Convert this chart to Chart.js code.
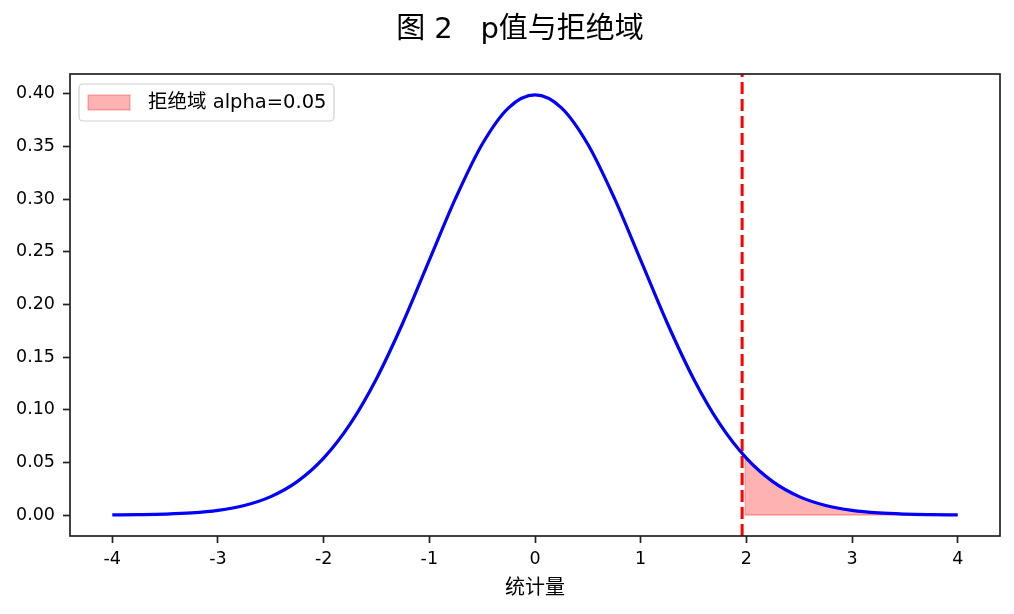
<!DOCTYPE html>
<html>
<head>
<meta charset="utf-8">
<script src="https://cdn.jsdelivr.net/npm/chart.js@4.4.0/dist/chart.umd.min.js"></script>
<style>
  html, body { margin: 0; padding: 0; background: #fff; }
  #wrap { width: 1014px; height: 614px; }
</style>
</head>
<body>
<div id="wrap"><canvas id="pChart"></canvas></div>
<script>
// standard normal density
const xValues = [-4, -3.75, -3.5, -3.25, -3, -2.75, -2.5, -2.25, -2, -1.75, -1.5, -1.25, -1, -0.75, -0.5, -0.25,
  0, 0.25, 0.5, 0.75, 1, 1.25, 1.5, 1.75, 2, 2.25, 2.5, 2.75, 3, 3.25, 3.5, 3.75, 4];
const densityValues = [0.0001, 0.0004, 0.0009, 0.0020, 0.0044, 0.0091, 0.0175, 0.0317, 0.0540, 0.0863, 0.1295, 0.1826, 0.2420, 0.3011, 0.3521, 0.3867,
  0.3989, 0.3867, 0.3521, 0.3011, 0.2420, 0.1826, 0.1295, 0.0863, 0.0540, 0.0317, 0.0175, 0.0091, 0.0044, 0.0020, 0.0009, 0.0004, 0.0001];

// rejection region (right tail)
const tailX = [1.99, 2, 2.25, 2.5, 2.75, 3, 3.25, 3.5, 3.75, 4];
const tailY = [0.0551, 0.0540, 0.0317, 0.0175, 0.0091, 0.0044, 0.0020, 0.0009, 0.0004, 0.0001];

const criticalValue = 1.96;
const xTicks = [-4, -3, -2, -1, 0, 1, 2, 3, 4];
const yTicks = [0, 0.05, 0.10, 0.15, 0.20, 0.25, 0.30, 0.35, 0.40];
const xRange = [-4.4, 4.4];
const yRange = [-0.0199, 0.4188];

const chartTitle = "图 2   p值与拒绝域";
const xLabel = "统计量";
const legendLabel = "拒绝域 alpha=0.05";

const fontFamily = "'DejaVu Sans', 'Noto Sans CJK SC', sans-serif";
const fillColor = "rgba(255, 0, 0, 0.3)";

const toPoints = (xs, ys) => xs.map((x, i) => ({ x, y: ys[i] }));

// box around the plot, like matplotlib spines
const framePlugin = {
  id: "frame",
  afterDraw(chart) {
    const { ctx, chartArea: a } = chart;
    ctx.save();
    ctx.strokeStyle = "#222";
    ctx.lineWidth = 1.7;
    ctx.strokeRect(a.left, a.top, a.right - a.left, a.bottom - a.top);
    ctx.restore();
  },
};

// figure title, centred a little right of the canvas middle as in the original
const titlePlugin = {
  id: "figTitle",
  afterDraw(chart) {
    const { ctx } = chart;
    ctx.save();
    ctx.fillStyle = "#000";
    ctx.font = "29px " + fontFamily;
    ctx.textAlign = "center";
    ctx.textBaseline = "middle";
    ctx.fillText(chartTitle, 520, 30);
    ctx.restore();
  },
};

// legend drawn inside the plot, upper left
const innerLegend = {
  id: "innerLegend",
  afterDraw(chart) {
    const { ctx, chartArea: a } = chart;
    const x = a.left + 9, y = a.top + 10, w = 255, h = 37;
    ctx.save();
    ctx.fillStyle = "rgba(255,255,255,0.8)";
    ctx.strokeStyle = "#d0d0d0";
    ctx.lineWidth = 1.2;
    ctx.beginPath();
    ctx.roundRect(x, y, w, h, 4);
    ctx.fill();
    ctx.stroke();

    ctx.fillStyle = fillColor;
    ctx.strokeStyle = fillColor;
    ctx.lineWidth = 1.2;
    ctx.fillRect(x + 9, y + 11, 42, 15);
    ctx.strokeRect(x + 9, y + 11, 42, 15);

    ctx.fillStyle = "#000";
    ctx.font = "19.5px " + fontFamily;
    ctx.textBaseline = "middle";
    ctx.fillText(legendLabel, x + 69, y + 19);
    ctx.restore();
  },
};

const config = {
  type: "line",
  data: {
    datasets: [
      {
        label: "pdf",
        data: toPoints(xValues, densityValues),
        borderColor: "#0000ff",
        borderWidth: 3.2,
        pointRadius: 0,
        cubicInterpolationMode: "monotone",
        fill: false,
      },
      {
        label: "critical",
        data: [{ x: criticalValue, y: yRange[0] }, { x: criticalValue, y: yRange[1] }],
        borderColor: "#ff0000",
        borderWidth: 3,
        borderDash: [12, 5],
        pointRadius: 0,
        fill: false,
      },
      {
        label: legendLabel,
        data: toPoints(tailX, tailY),
        borderColor: fillColor,
        backgroundColor: fillColor,
        borderWidth: 1.5,
        pointRadius: 0,
        cubicInterpolationMode: "monotone",
        fill: "origin",
      },
      {
        label: "tailEdge",
        data: [{ x: tailX[tailX.length - 1], y: 0 }, { x: tailX[0], y: 0 }, { x: tailX[0], y: tailY[0] }],
        borderColor: fillColor,
        borderWidth: 1.5,
        pointRadius: 0,
        tension: 0,
        fill: false,
      },
    ],
  },
  options: {
    animation: false,
    responsive: true,
    maintainAspectRatio: false,
    layout: { padding: { left: 0, right: 14, top: 74, bottom: 0 } },
    plugins: {
      legend: { display: false },
      tooltip: { enabled: false },
      title: { display: false },
    },
    scales: {
      x: {
        type: "linear",
        min: xRange[0],
        max: xRange[1],
        afterBuildTicks: (scale) => { scale.ticks = xTicks.map((v) => ({ value: v })); },
        afterFit: (scale) => { scale.height = 78; },
        ticks: {
          color: "#000",
          padding: 6,
          font: { family: fontFamily, size: 17.5 },
          callback: (v) => String(v),
        },
        grid: { display: true, drawOnChartArea: false, drawTicks: true, tickLength: 7, tickColor: "#222", tickWidth: 1.7 },
        border: { display: false },
        title: {
          display: true,
          text: xLabel,
          color: "#000",
          font: { family: fontFamily, size: 20 },
          padding: { top: 0, bottom: 13 },
        },
      },
      y: {
        type: "linear",
        min: yRange[0],
        max: yRange[1],
        afterBuildTicks: (scale) => { scale.ticks = yTicks.map((v) => ({ value: v })); },
        afterFit: (scale) => { scale.width = 70; },
        ticks: {
          color: "#000",
          padding: 8,
          font: { family: fontFamily, size: 17.5 },
          callback: (v) => Number(v).toFixed(2),
        },
        grid: { display: true, drawOnChartArea: false, drawTicks: true, tickLength: 7, tickColor: "#222", tickWidth: 1.7 },
        border: { display: false },
      },
    },
  },
  plugins: [framePlugin, titlePlugin, innerLegend],
};

new Chart(document.getElementById("pChart"), config);
</script>
</body>
</html>
